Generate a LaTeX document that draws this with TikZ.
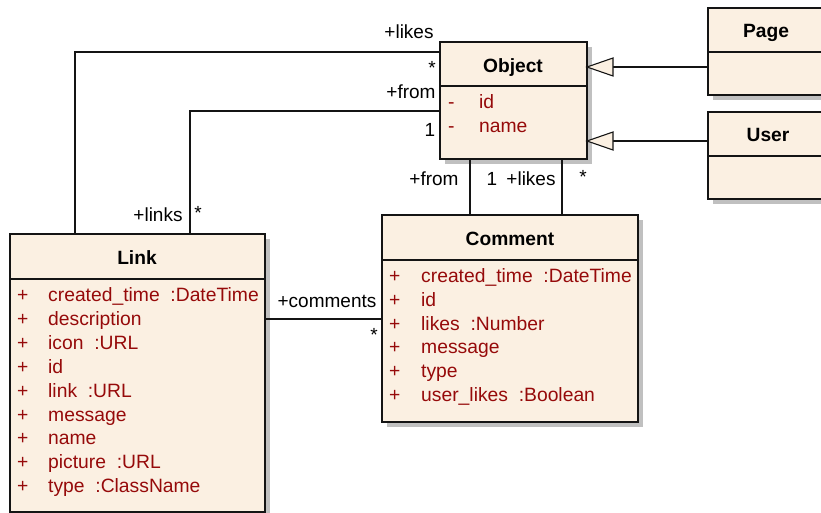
\documentclass[tikz,border=0pt]{standalone}
\usepackage{fontspec}
\setmainfont{Liberation Sans}
\definecolor{classfill}{RGB}{251,240,226}
\definecolor{attrred}{RGB}{150,10,10}
\definecolor{shadowgray}{RGB}{192,192,192}
\definecolor{edge}{RGB}{20,20,20}
\tikzset{
  classbox/.style={draw=edge, line width=1.4pt, fill=classfill},
  divider/.style={draw=edge, line width=1.2pt},
  classshadow/.style={fill=shadowgray, draw=none},
  assoc/.style={draw=edge, line width=1.1pt},
  title/.style={font=\fontsize{19.2}{24}\selectfont\bfseries, inner sep=0pt, text height=15pt, text depth=0pt},
  lbl/.style={font=\fontsize{19}{22}\selectfont, inner sep=0pt, text=black, text height=15pt, text depth=0pt},
  attr/.style={font=\fontsize{19.3}{24}\selectfont, inner sep=0pt, anchor=west, text=attrred, text height=14pt, text depth=1pt},
  gentri/.style={draw=edge, line width=1.1pt, fill=classfill},
}
% class box: #1 name, #2 left, #3 top, #4 right, #5 bottom, #6 divider y
\newcommand{\umlclass}[6]{%
  \fill[classshadow] (#2+5,#3+5) rectangle (#4+5,#5+5);
  \draw[classbox] (#2,#3) rectangle (#4,#5);
  \draw[divider] (#2,#6) -- (#4,#6);
  \coordinate (#1-nw) at (#2,#3);
  \coordinate (#1-se) at (#4,#5);
}
\begin{document}
\begin{tikzpicture}[x=1pt,y=-1pt]
\useasboundingbox (0,0) rectangle (821,513);

% classes
\umlclass{object}{440}{42}{587}{159}{86}
\umlclass{page}{708}{8}{840}{95}{52}
\umlclass{user}{708}{112}{840}{199}{156}
\umlclass{link}{10}{234}{265}{512}{279}
\umlclass{comment}{382}{215}{638}{422}{260}

\node[title] (objectT) at (513,65) {Object};
\node[title] (pageT) at (766,30) {Page};
\node[title] (userT) at (768,134) {User};
\node[title] (linkT) at (137,257) {Link};
\node[title] (commentT) at (510,238) {Comment};

% Object attributes
\foreach \v/\t [count=\i from 0] in {-/id,-/name}{
  \node[attr] (oa\i) at (448,102+24*\i) {\v};
  \node[attr] (ob\i) at (479,102+24*\i) {\t};
}
% Link attributes
\foreach \t [count=\i from 0] in {created\_time\ \ :DateTime,description,icon\ \ :URL,id,link\ \ :URL,message,name,picture\ \ :URL,type\ \ :ClassName}{
  \node[attr] (la\i) at (17,295+23.9*\i) {+};
  \node[attr] (lb\i) at (48,295+23.9*\i) {\t};
}
% Comment attributes
\foreach \t [count=\i from 0] in {created\_time\ \ :DateTime,id,likes\ \ :Number,message,type,user\_likes\ \ :Boolean}{
  \node[attr] (ca\i) at (389,276+23.8*\i) {+};
  \node[attr] (cb\i) at (421,276+23.8*\i) {\t};
}

% generalizations Page/User -> Object
\coordinate (gp) at (587,67);
\coordinate (gu) at (587,141);
\draw[assoc] (708,67) -- (613,67);
\draw[gentri] (gp) -- (613,58) -- (613,76) -- cycle;
\draw[assoc] (708,141) -- (613,141);
\draw[gentri] (gu) -- (613,132) -- (613,150) -- cycle;

% Link -- Object (likes)
\coordinate (lk1) at (75,234);
\coordinate (lk2) at (440,52);
\draw[assoc] (lk1) |- (lk2);
\node[lbl] (lkR) at (409,31) {+likes};
\node[lbl] (lkM) at (432,67) {*};

% Link -- Object (from)
\coordinate (fr1) at (190,234);
\coordinate (fr2) at (440,111);
\draw[assoc] (fr1) |- (fr2);
\node[lbl] (frR) at (411,91) {+from};
\node[lbl] (frM) at (430,129) {1};
\node[lbl] (lnR) at (158,214) {+links};
\node[lbl] (lnM) at (198,212) {*};

% Comment -- Object (from, likes)
\coordinate (cf1) at (470,159);
\coordinate (cf2) at (470,215);
\draw[assoc] (cf1) -- (cf2);
\coordinate (cl1) at (562,159);
\coordinate (cl2) at (562,215);
\draw[assoc] (cl1) -- (cl2);
\node[lbl] (cfR) at (434,178) {+from};
\node[lbl] (cfM) at (492,178) {1};
\node[lbl] (clR) at (531,178) {+likes};
\node[lbl] (clM) at (583,176) {*};

% Link -- Comment (comments)
\coordinate (cm1) at (265,319);
\coordinate (cm2) at (382,319);
\draw[assoc] (cm1) -- (cm2);
\node[lbl] (cmR) at (327,300) {+comments};
\node[lbl] (cmM) at (374,334) {*};
\end{tikzpicture}
\end{document}
